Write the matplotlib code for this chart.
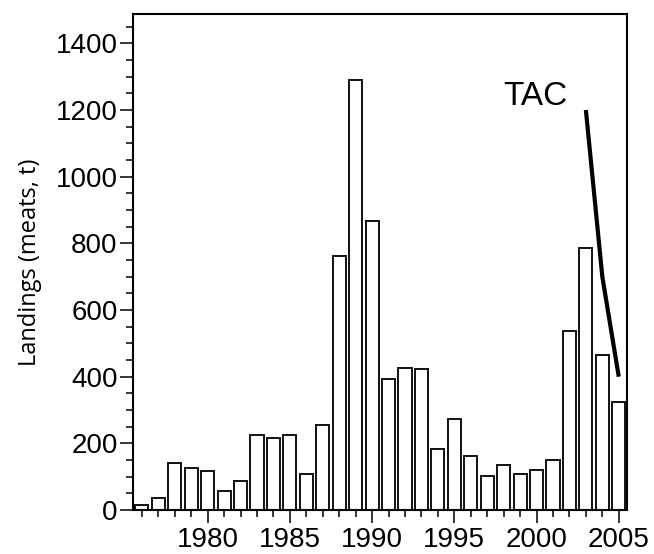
import matplotlib
matplotlib.use("Agg")
import matplotlib.pyplot as plt
from matplotlib.ticker import MultipleLocator

years = list(range(1976, 2006))
landings = [15, 35, 142, 125, 116, 58, 88, 225, 216, 225, 107, 254, 761, 1290, 868,
            394, 427, 422, 184, 272, 162, 101, 135, 109, 119, 149, 537, 787, 464, 323]
tac_years = [2003, 2004, 2005]
tac_values = [1200, 700, 400]

plt.rcParams['font.family'] = ['Liberation Sans', 'DejaVu Sans']

fig = plt.figure(figsize=(6.54, 5.54), dpi=100)
ax = fig.add_axes([0.2034, 0.0794, 0.7558, 0.8953])

ax.bar(years, landings, width=0.8, color='white', edgecolor='#111111', linewidth=1.4)
ax.plot(tac_years, tac_values, color='black', linewidth=3.0, solid_capstyle='butt')
ax.text(1997.95, 1215, 'TAC', fontsize=24, ha='left', va='baseline')

ax.set_xlim(1975.46, 2005.52)
ax.set_ylim(0, 1488)
ax.xaxis.set_major_locator(MultipleLocator(5))
ax.xaxis.set_minor_locator(MultipleLocator(1))
ax.yaxis.set_major_locator(MultipleLocator(200))
ax.yaxis.set_minor_locator(MultipleLocator(50))
ax.set_xticks([1980, 1985, 1990, 1995, 2000, 2005])

ax.tick_params(which='major', direction='out', length=9.5, width=1.1, labelsize=20, pad=1.5)
ax.tick_params(axis='x', which='major', pad=3)
ax.tick_params(which='minor', direction='out', length=5, width=1.1)
for s in ax.spines.values():
    s.set_linewidth(1.5)

ax.set_ylabel('Landings (meats, t)', fontsize=17, family=['Open Sans', 'DejaVu Sans'], labelpad=10)

fig.savefig('out.png', dpi=100, facecolor='white')
